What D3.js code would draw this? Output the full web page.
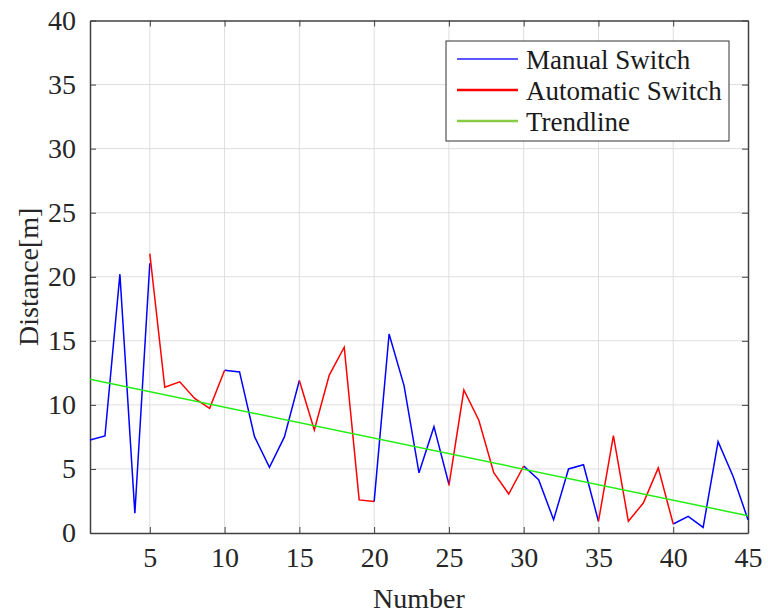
<html>
<script src="https://d3js.org/d3.v7.min.js"></script>
<style>
    body { margin: 0; background: #fff; }
</style>
<body>
<svg width="768" height="614"></svg>
<script>
    // x positions (measurement number)
    var numbers = [1, 2, 3, 4, 5, 6, 7, 8, 9, 10, 11, 12, 13, 14, 15, 16, 17, 18, 19, 20, 21, 22, 23,
        24, 25, 26, 27, 28, 29, 30, 31, 32, 33, 34, 35, 36, 37, 38, 39, 40, 41, 42, 43, 44, 45];

    var manual = [7.26, 7.57, 20.2, 1.54, 21.05, null, null, null, null,
        12.7, 12.57, 7.52, 5.13, 7.5, 11.9, null, null, null, null,
        2.45, 15.53, 11.5, 4.7, 8.3, 3.8, null, null, null, null,
        5.23, 4.16, 1.04, 5.0, 5.33, 0.91, null, null, null, null,
        0.7, 1.3, 0.44, 7.13, 4.43, 1.04];

    var automatic = [null, null, null, null, 21.8, 11.37, 11.8, 10.5, 9.73, 12.7,
        null, null, null, null, 11.9, 8.04, 12.33, 14.5, 2.58, 2.45,
        null, null, null, null, 3.7, 11.16, 8.8, 4.7, 3.04, 5.23,
        null, null, null, null, 0.91, 7.6, 0.91, 2.34, 5.08, 0.7,
        null, null, null, null, null];

    var trendX = [1, 45];
    var trendY = [12.0, 1.35];

    var xTicks = [5, 10, 15, 20, 25, 30, 35, 40, 45];
    var yTicks = [0, 5, 10, 15, 20, 25, 30, 35, 40];

    var legendLabels = ["Manual Switch", "Automatic Switch", "Trendline"];
    var colors = ["#0000ff", "#ff0000", "#22ee11"];
    var legendColors = ["#2222ff", "#ff0000", "#88cc44"];

    var serif = "'Liberation Serif', 'DejaVu Serif', serif";

    var mLeft = 90, mRight = 748, mTop = 20.5, mBottom = 533;
    var xs = d3.scaleLinear().domain([1, 45]).range([mLeft, mRight]);
    var ys = d3.scaleLinear().domain([0, 40]).range([mBottom, mTop]);

    var svg = d3.select("svg");

    // grid
    svg.append("g").selectAll("line").data(xTicks.slice(0, -1)).enter().append("line")
        .attr("x1", d => xs(d)).attr("x2", d => xs(d))
        .attr("y1", mTop).attr("y2", mBottom)
        .attr("stroke", "#dedede").attr("stroke-width", 1);
    svg.append("g").selectAll("line").data(yTicks.slice(1, -1)).enter().append("line")
        .attr("x1", mLeft).attr("x2", mRight)
        .attr("y1", d => ys(d)).attr("y2", d => ys(d))
        .attr("stroke", "#dedede").attr("stroke-width", 1);

    // axes, MATLAB style: ticks pointing inwards on all four sides
    svg.append("g").attr("transform", "translate(0," + mBottom + ")")
        .call(d3.axisBottom(xs).tickValues(xTicks).tickSizeInner(-6).tickSizeOuter(0).tickPadding(14));
    svg.append("g").attr("transform", "translate(0," + mTop + ")")
        .call(d3.axisTop(xs).tickValues(xTicks).tickSizeInner(-6).tickSizeOuter(0).tickFormat(""));
    svg.append("g").attr("transform", "translate(" + mLeft + ",0)")
        .call(d3.axisLeft(ys).tickValues(yTicks).tickSizeInner(-6).tickSizeOuter(0).tickPadding(14));
    svg.append("g").attr("transform", "translate(" + mRight + ",0)")
        .call(d3.axisRight(ys).tickValues(yTicks).tickSizeInner(-6).tickSizeOuter(0).tickFormat(""));
    svg.selectAll(".tick text").attr("font-size", 28).attr("font-family", serif).attr("fill", "#262626");
    svg.selectAll(".domain").attr("stroke", "#404040").attr("stroke-width", 1.5);
    svg.selectAll(".tick line").attr("stroke", "#404040");

    var line = d3.line()
        .defined(d => d[1] != null)
        .x(d => xs(d[0]))
        .y(d => ys(d[1]));

    svg.append("path").datum(numbers.map((n, i) => [n, manual[i]]))
        .attr("d", line).attr("fill", "none").attr("stroke", colors[0]).attr("stroke-width", 1.5);
    svg.append("path").datum(numbers.map((n, i) => [n, automatic[i]]))
        .attr("d", line).attr("fill", "none").attr("stroke", colors[1]).attr("stroke-width", 1.5);
    svg.append("path").datum(trendX.map((n, i) => [n, trendY[i]]))
        .attr("d", line).attr("fill", "none").attr("stroke", colors[2]).attr("stroke-width", 1.5);

    // legend
    var lg = svg.append("g").attr("transform", "translate(446,41)");
    lg.append("rect").attr("width", 283).attr("height", 100)
        .attr("fill", "#fff").attr("stroke", "#333").attr("stroke-width", 1);
    legendLabels.forEach(function (lab, i) {
        lg.append("line").attr("x1", 11).attr("x2", 72)
            .attr("y1", 18 + i * 31).attr("y2", 18 + i * 31)
            .attr("stroke", legendColors[i]).attr("stroke-width", i == 0 ? 1.5 : 2.5);
        lg.append("text").attr("x", 80).attr("y", 28 + i * 31)
            .attr("font-family", serif).attr("fill", "#1a1a1a")
            .attr("font-size", 27).text(lab);
    });

    // axis titles
    svg.append("text").attr("x", (mLeft + mRight) / 2).attr("y", 608)
        .attr("font-family", serif).attr("fill", "#262626")
        .attr("text-anchor", "middle").attr("font-size", 28).text("Number");
    svg.append("text").attr("transform", "translate(38," + (mTop + mBottom) / 2 + ") rotate(-90)")
        .attr("font-family", serif).attr("fill", "#262626")
        .attr("text-anchor", "middle").attr("font-size", 28).text("Distance[m]");
</script>
</body>
</html>
